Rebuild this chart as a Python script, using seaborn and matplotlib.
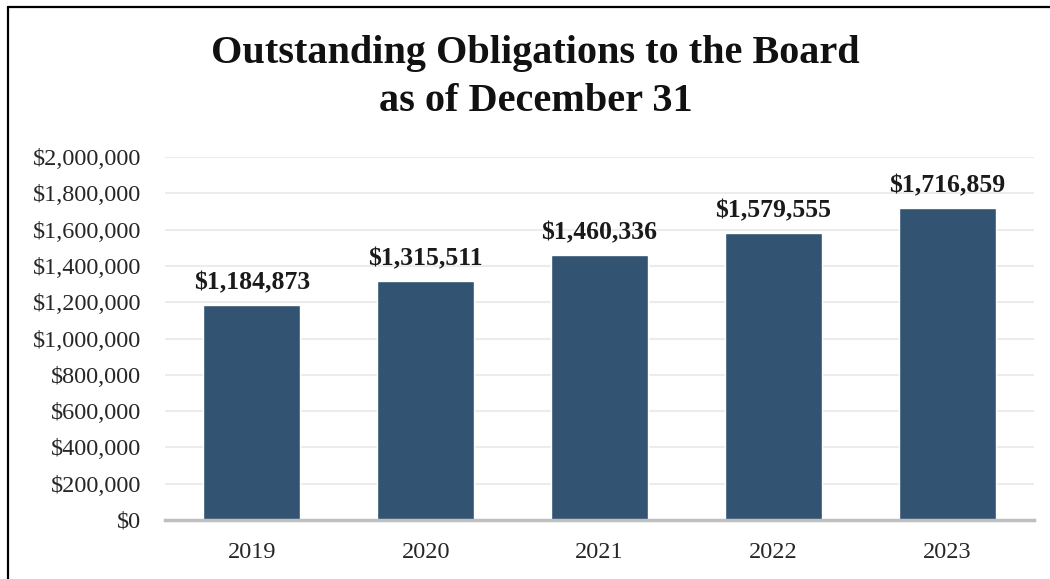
import matplotlib
matplotlib.use("Agg")
import matplotlib.pyplot as plt
import seaborn as sns
import pandas as pd
from matplotlib.lines import Line2D
from matplotlib.ticker import FuncFormatter

years = ["2019", "2020", "2021", "2022", "2023"]
values = [1184873, 1315511, 1460336, 1579555, 1716859]
title_lines = ["Outstanding Obligations to the Board", "as of December 31"]

sns.set_theme(style="white")
plt.rcParams['font.family'] = ['Liberation Serif', 'DejaVu Serif']

df = pd.DataFrame({"year": years, "value": values})

fig = plt.figure(figsize=(10.5, 5.79), dpi=100)
ax = fig.add_axes([0.157, 0.1019, 0.828, 0.6269])

sns.barplot(data=df, x="year", y="value", color="#335373", saturation=1,
            width=0.56, ax=ax, zorder=3)

ax.set_ylim(0, 2000000)
ax.set_yticks(range(0, 2000001, 200000))
ax.yaxis.set_major_formatter(FuncFormatter(lambda v, p: f"${v:,.0f}"))
ax.grid(axis="y", color="#ececec", linewidth=1.5, zorder=0)
ax.set_axisbelow(True)
for s in ["top", "right", "left"]:
    ax.spines[s].set_visible(False)
ax.spines["bottom"].set_color("#bfbfbf")
ax.spines["bottom"].set_linewidth(2.5)
ax.spines["bottom"].set_zorder(4)
ax.tick_params(axis="y", labelsize=17.5, pad=17, length=0, colors="#262626")
ax.tick_params(axis="x", labelsize=17.5, pad=16, length=0, colors="#262626")
ax.set_xlabel("")
ax.set_ylabel("")

for c in ax.containers:
    ax.bar_label(c, labels=[f"${v:,.0f}" for v in values], padding=8,
                 fontsize=18.5, fontweight="bold", color="#1a1a1a")

fig.text(0.51, 0.908, title_lines[0], ha="center", va="center",
         fontsize=29, fontweight="bold", color="#111111")
fig.text(0.51, 0.825, title_lines[1], ha="center", va="center",
         fontsize=29, fontweight="bold", color="#111111")

fig.add_artist(Line2D([8/1050, 8/1050], [0, 1 - 7/579], transform=fig.transFigure,
                      color="black", linewidth=1.6))
fig.add_artist(Line2D([8/1050, 1], [1 - 7/579, 1 - 7/579], transform=fig.transFigure,
                      color="black", linewidth=1.6))

fig.savefig("out.png", dpi=100)
